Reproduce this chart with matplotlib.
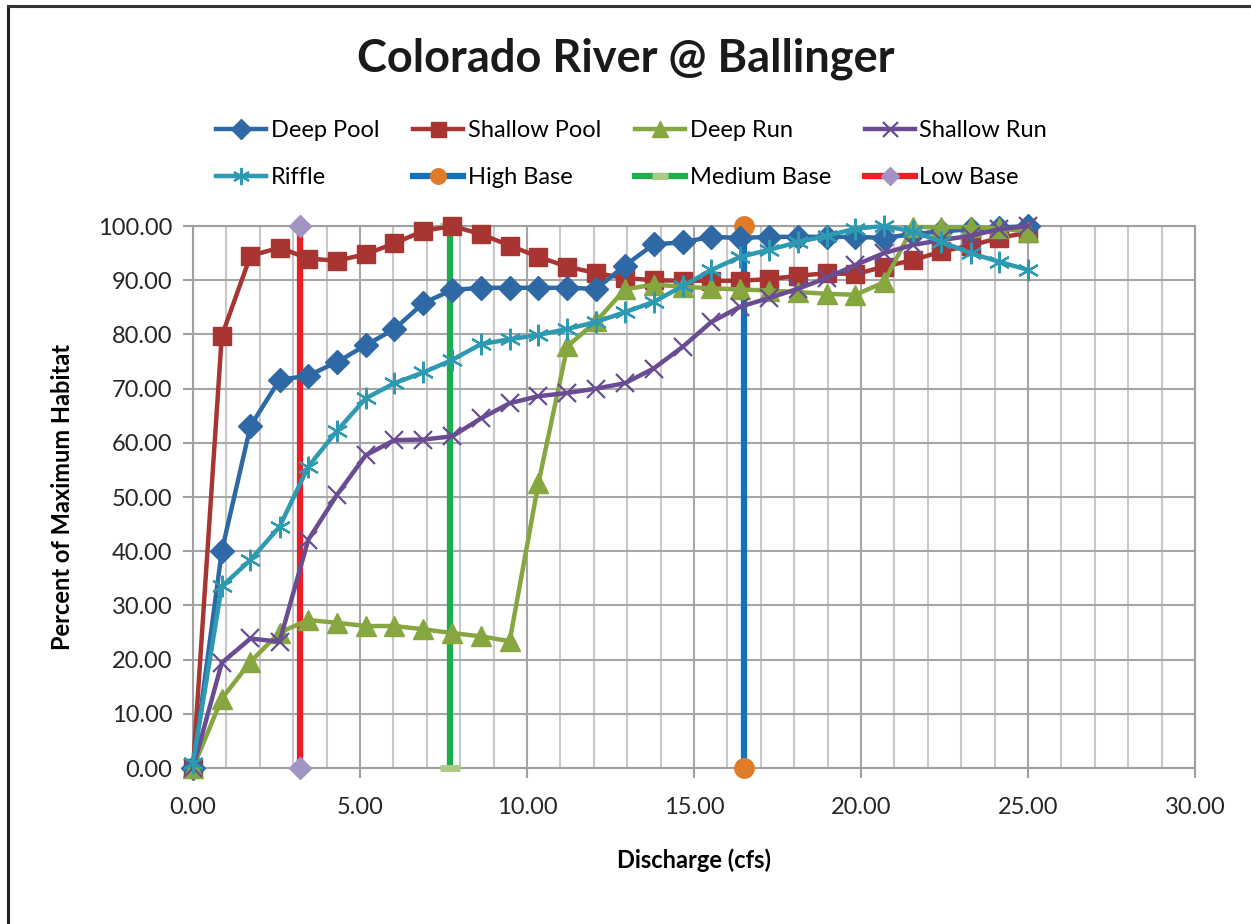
import matplotlib
matplotlib.use('Agg')
import matplotlib.pyplot as plt
from matplotlib.lines import Line2D
from matplotlib.ticker import MultipleLocator, FormatStrFormatter

plt.rcParams['font.family'] = ['Lato', 'DejaVu Sans']

# discharge (cfs) for the habitat series
discharge = [0.00, 0.86, 1.72, 2.59, 3.45, 4.31, 5.17, 6.03, 6.90, 7.76,
             8.62, 9.48, 10.34, 11.21, 12.07, 12.93, 13.79, 14.66, 15.52, 16.38,
             17.24, 18.10, 18.97, 19.83, 20.69, 21.55, 22.41, 23.28, 24.14, 25.00]

deep_pool = [0.0, 40.0, 63.1, 71.6, 72.4, 74.9, 78.0, 81.0, 85.8, 88.2,
             88.6, 88.6, 88.6, 88.6, 88.4, 92.7, 96.6, 97.0, 98.0, 97.8,
             98.0, 98.0, 98.0, 98.0, 97.8, 98.5, 99.0, 99.4, 99.7, 100.0]
shallow_pool = [0.0, 79.7, 94.5, 96.0, 94.0, 93.6, 94.8, 96.8, 99.1, 100.0,
                98.5, 96.4, 94.3, 92.5, 91.3, 90.4, 90.0, 89.9, 89.9, 89.9,
                90.2, 90.8, 91.3, 91.1, 92.5, 93.7, 95.3, 96.4, 97.8, 98.8]
deep_run = [0.0, 12.8, 19.6, 25.0, 27.3, 26.8, 26.2, 26.2, 25.6, 24.9,
            24.3, 23.4, 52.5, 77.8, 82.4, 88.3, 89.2, 88.8, 88.5, 88.3,
            88.1, 87.8, 87.5, 87.3, 89.6, 99.8, 99.8, 99.8, 99.6, 98.9]
shallow_run = [0.0, 19.4, 23.9, 23.3, 42.1, 50.4, 57.7, 60.5, 60.6, 61.2,
               64.5, 67.3, 68.6, 69.2, 70.0, 71.0, 73.7, 77.7, 82.3, 85.1,
               86.7, 88.4, 90.4, 92.8, 95.0, 96.5, 97.4, 98.2, 99.4, 100.0]
riffle = [1.0, 33.5, 38.4, 44.5, 55.6, 62.2, 68.2, 71.0, 73.0, 75.3,
          78.2, 79.1, 79.9, 81.0, 82.3, 84.1, 86.0, 88.9, 91.9, 94.3,
          95.6, 97.0, 98.2, 99.5, 100.0, 99.0, 97.1, 95.0, 93.4, 91.9]

# base flow markers (vertical lines)
high_base_x = [16.5, 16.5]
medium_base_x = [7.7, 7.7]
low_base_x = [3.2, 3.2]
base_y = [0, 100]

fig = plt.figure(figsize=(12.51, 9.24), dpi=100)
ax = fig.add_axes([0.1543, 0.1688, 0.8009, 0.5866])

lw = 3.2
ax.plot(discharge, deep_pool, color='#2F69A5', lw=lw, marker='D', ms=12.5,
        label='Deep Pool', clip_on=False, zorder=5)
ax.plot(discharge, shallow_pool, color='#A83532', lw=lw, marker='s', ms=13.5,
        label='Shallow Pool', clip_on=False, zorder=4)
ax.plot(discharge, deep_run, color='#86A63F', lw=lw, marker='^', ms=14.5,
        label='Deep Run', clip_on=False, zorder=6)
ax.plot(discharge, shallow_run, color='#6A4C92', lw=lw, marker='x', ms=13.5,
        mew=1.6, label='Shallow Run', clip_on=False, zorder=7)
ax.plot(discharge, riffle, color='#2D9AB1', lw=lw, marker=(6, 2, 0), ms=15.5,
        mew=1.6, label='Riffle', clip_on=False, zorder=8)
ax.plot(high_base_x, base_y, color='#1570BD', lw=4.5, marker='o', ms=14,
        mfc='#E07B28', mec='#E07B28', label='High Base', clip_on=False, zorder=3)
ax.plot(medium_base_x, base_y, color='#1BAF4B', lw=4.5, marker='_', ms=14,
        mew=5, mec='#ADCB85', label='Medium Base', clip_on=False, zorder=3)
ax.plot(low_base_x, base_y, color='#EE1C25', lw=4.5, marker='D', ms=11,
        mfc='#A294C2', mec='#A294C2', label='Low Base', clip_on=False, zorder=3)

ax.set_xlim(0, 30)
ax.set_ylim(0, 100)
ax.xaxis.set_major_locator(MultipleLocator(5))
ax.xaxis.set_minor_locator(MultipleLocator(1))
ax.yaxis.set_major_locator(MultipleLocator(10))
ax.xaxis.set_major_formatter(FormatStrFormatter('%.2f'))
ax.yaxis.set_major_formatter(FormatStrFormatter('%.2f'))
ax.grid(which='major', color='#A6A6A6', lw=1.5)
ax.grid(which='minor', axis='x', color='#C8C8CC', lw=1.5)
ax.set_axisbelow(True)
for s in ax.spines.values():
    s.set_color('#A0A0A0')
    s.set_linewidth(1.5)
ax.tick_params(which='major', length=7, width=1.5, color='#A0A0A0',
               labelsize=17, labelcolor='#262626', pad=8)
ax.tick_params(which='minor', length=0)
ax.tick_params(axis='x', pad=14)

ax.set_xlabel('Discharge (cfs)', fontsize=17, fontweight='bold', labelpad=22)
ax.set_ylabel('Percent of Maximum Habitat', fontsize=17, fontweight='bold',
              labelpad=17)
fig.text(0.5, 0.936, 'Colorado River @ Ballinger', fontsize=32.5,
         fontweight='bold', ha='center', va='center', color='#1a1a1a')

# legend, 2 rows x 4 cols (column-first ordering)
h, l = ax.get_legend_handles_labels()
order = [0, 4, 1, 5, 2, 6, 3, 7]
fig.legend([h[i] for i in order], [l[i] for i in order], ncol=4,
           loc='upper left', bbox_to_anchor=(0.156, 0.893), frameon=False,
           fontsize=17, handlelength=2.1, handletextpad=0.2,
           columnspacing=1.45, labelspacing=1.1, markerscale=0.8)

# outer border (left and top only are visible)
fig.add_artist(Line2D([0.0060, 0.0060], [0, 0.9935], color='#222222', lw=2.2,
                      transform=fig.transFigure))
fig.add_artist(Line2D([0.0060, 1.0], [0.9935, 0.9935], color='#333333', lw=2.2,
                      transform=fig.transFigure))

fig.savefig('out.png', dpi=100)
